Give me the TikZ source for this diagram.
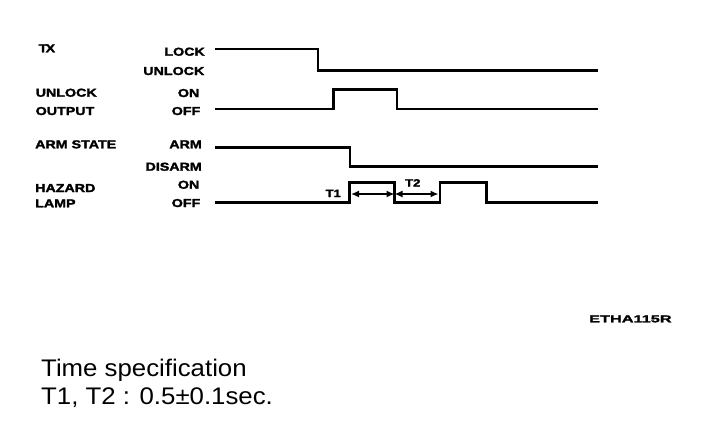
\documentclass[tikz,border=0pt]{standalone}
\usepackage{fontspec}
\setmainfont{Liberation Sans}
\newfontfamily\lblfont[FakeStretch=1.24, BoldFeatures={FakeStretch=1.24, FakeBold=2.2}]{Liberation Sans}
\newfontfamily\codefont[FakeStretch=1.63, BoldFeatures={FakeStretch=1.63, FakeBold=2.2}]{Liberation Sans}
\newfontfamily\specfont[FakeStretch=1.075]{Liberation Sans}
\usetikzlibrary{arrows.meta}
\begin{document}
\begin{tikzpicture}[x=1pt,y=-1pt,
  sig/.style={line width=2.2pt, line join=miter},
  dim/.style={line width=1.4pt, {Latex[length=8pt,width=7pt]}-{Latex[length=8pt,width=7pt]}},
  lbl/.style={inner sep=0pt, font=\lblfont\bfseries\fontsize{11.5}{11.5}\selectfont},
  tlbl/.style={inner sep=0pt, font=\lblfont\bfseries\fontsize{10.5}{10.5}\selectfont},
  code/.style={inner sep=0pt, font=\codefont\bfseries\fontsize{10}{10}\selectfont},
  spec/.style={inner sep=0pt, font=\specfont\fontsize{24}{24}\selectfont}]
\useasboundingbox[fill=white] (0,0) rectangle (704,434);

% left signal names
\node[lbl, anchor=base west] (tx) at (38.5,52.3) {T\kern-1.8pt X};
\node[lbl, anchor=base west] (uo1) at (35.5,96.7) {UNLOCK};
\node[lbl, anchor=base west] (uo2) at (35.5,115) {OUTPUT};
\node[lbl, anchor=base west] (arm) at (35,148.3) {ARM STATE};
\node[lbl, anchor=base west] (hz1) at (35,192) {HAZARD};
\node[lbl, anchor=base west] (hz2) at (35,207.3) {LAMP};

% level names
\node[lbl, anchor=base east] (lock) at (205,55.7) {LOCK};
\node[lbl, anchor=base east] (unlock) at (204.5,75) {UNLOCK};
\node[lbl, anchor=base east] (on1) at (199.5,97) {ON};
\node[lbl, anchor=base east] (off1) at (200.5,115) {OFF};
\node[lbl, anchor=base east] (armlv) at (202,148.3) {ARM};
\node[lbl, anchor=base east] (disarm) at (202,170.7) {DISARM};
\node[lbl, anchor=base east] (on2) at (199.5,188.7) {ON};
\node[lbl, anchor=base east] (off2) at (200.5,207) {OFF};

% waveforms
\draw[sig] (215,49) -- (318,49) -- (318,70.5) -- (598,70.5);
\draw[sig] (215,109) -- (333.5,109) -- (333.5,89.5) -- (397,89.5) -- (397,109) -- (598,109);
\draw[sig] (215,147.5) -- (350,147.5) -- (350,166.5) -- (598,166.5);
\draw[sig] (215,202.5) -- (349.5,202.5) -- (349.5,182.5) -- (394.5,182.5) -- (394.5,202.5)
  -- (440,202.5) -- (440,182.5) -- (486.5,182.5) -- (486.5,202.5) -- (598,202.5);

% time dimensions
\coordinate (d0) at (351,194);
\coordinate (d1) at (394.5,194);
\coordinate (d2) at (438.5,194);
\draw[dim] (d0) -- (d1);
\draw[dim] (d1) -- (d2);
\node[tlbl, anchor=base east] (t1) at (341,197) {T1};
\node[tlbl, anchor=base west] (t2) at (405,186.5) {T2};

% figure code
\node[code, anchor=base west] (fig) at (589,322.3) {ETHA115R};

% specification
\node[spec, anchor=base west] (sp1) at (41,376.7) {Time specification};
\node[spec, anchor=base west] (sp2) at (41,404) {T1, T2 : 0.5±0.1sec.};
\end{tikzpicture}
\end{document}
